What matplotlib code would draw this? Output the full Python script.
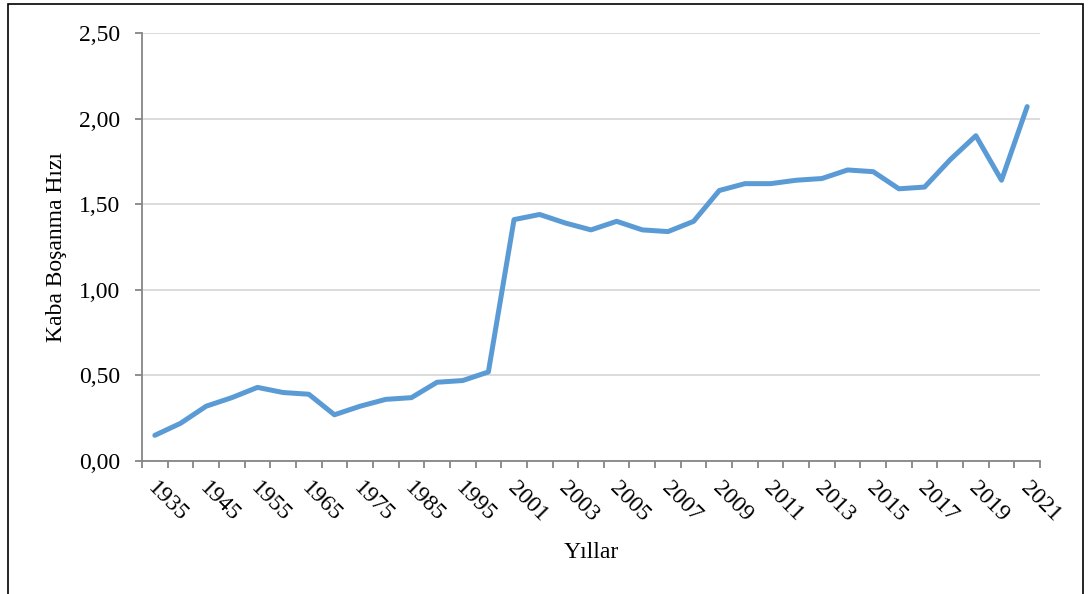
#!/usr/bin/env python3
# -*- coding: utf-8 -*-

import numpy
import matplotlib
matplotlib.use('Agg')
import matplotlib.pyplot as pyplot
import matplotlib.patches as patches

years = ['1935', '1940', '1945', '1950', '1955', '1960', '1965', '1970',
         '1975', '1980', '1985', '1990', '1995', '2000'] + \
        [str(y) for y in range(2001, 2022)]

rates = [0.15, 0.22, 0.32, 0.37, 0.43, 0.40, 0.39, 0.27,
         0.32, 0.36, 0.37, 0.46, 0.47, 0.52,
         1.41, 1.44, 1.39, 1.35, 1.40, 1.35, 1.34, 1.40,
         1.58, 1.62, 1.62, 1.64, 1.65, 1.70, 1.69, 1.59,
         1.60, 1.76, 1.90, 1.64, 2.07]

y_ticks = [0.0, 0.5, 1.0, 1.5, 2.0, 2.5]

LINE_COLOR = '#5b9bd5'
AXIS_COLOR = '#868686'
GRID_COLOR = '#d9d9d9'
FONT_SIZE = 17

pyplot.rcParams['font.family'] = ['Liberation Serif', 'DejaVu Serif']

fig = pyplot.figure(figsize=(10.89, 5.94), dpi=100)
ax = fig.add_axes([142 / 1089, 1 - 461 / 594, (1040 - 142) / 1089, (461 - 33) / 594])

pos = numpy.arange(len(years))
ax.plot(pos, rates, color=LINE_COLOR, linewidth=3.6, solid_capstyle='round',
        solid_joinstyle='round', zorder=3)

ax.set_xlim(-0.5, len(years) - 0.5)
ax.set_ylim(0, 2.5)
ax.set_yticks(y_ticks)
ax.set_yticklabels([('%.2f' % v).replace('.', ',') for v in y_ticks])
ax.grid(axis='y', color=GRID_COLOR, linewidth=1.3, zorder=1)
ax.set_axisbelow(True)

# ticks at category boundaries, labels at every other category
ax.set_xticks(numpy.arange(-0.5, len(years), 1.0))
ax.set_xticklabels([])
ax.set_xticks(pos[::2] + 0.15, minor=True)
ax.set_xticklabels(years[::2], minor=True, rotation=-45, ha='left', va='top',
                   rotation_mode='anchor', fontsize=FONT_SIZE)
ax.tick_params(axis='x', which='minor', length=0, pad=12)
ax.tick_params(axis='x', which='major', length=5, width=1.3, color=AXIS_COLOR)
ax.tick_params(axis='y', length=5, width=1.3, color=AXIS_COLOR,
               labelsize=FONT_SIZE, pad=11)

for side in ['top', 'right']:
    ax.spines[side].set_visible(False)
for side in ['left', 'bottom']:
    ax.spines[side].set_color(AXIS_COLOR)
    ax.spines[side].set_linewidth(1.3)

ax.set_ylabel('Kaba Boşanma Hızı', fontsize=FONT_SIZE)
ax.yaxis.set_label_coords(-0.083, 0.5)
ax.set_xlabel('Yıllar', fontsize=FONT_SIZE)
ax.xaxis.set_label_coords(0.5, -0.19)

border = patches.Rectangle((8 / 1089, -0.05), (1083 - 8) / 1089, 1.05 - 4 / 594,
                           transform=fig.transFigure, fill=False,
                           edgecolor='black', linewidth=1.2)
fig.patches.append(border)

pyplot.savefig('out.png', dpi=100)
